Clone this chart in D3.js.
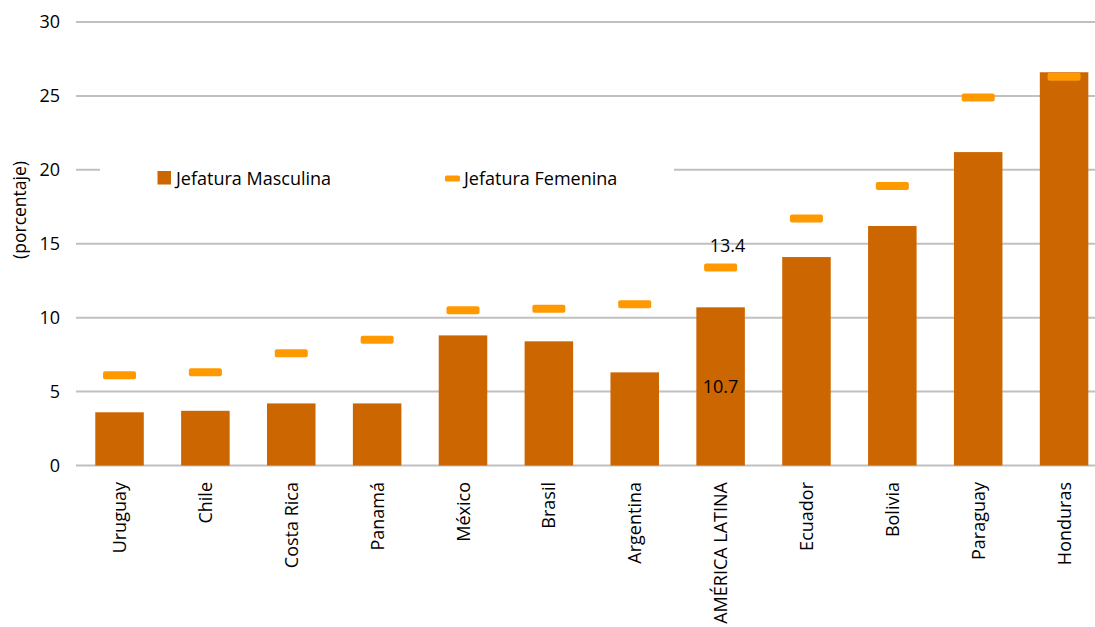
<!DOCTYPE html>
<html>
<head>
<meta charset="utf-8">
<script src="https://cdn.jsdelivr.net/npm/d3@7/dist/d3.min.js"></script>
<style>
  html, body { margin: 0; padding: 0; background: #fff; }
  svg { display: block; font-family: "Open Sans", sans-serif; }
</style>
</head>
<body>
<svg id="chart" width="1095" height="627"></svg>
<script>
// Hogares en situación de pobreza según sexo de la jefatura (porcentaje)
const categories = ["Uruguay", "Chile", "Costa Rica", "Panamá", "México", "Brasil",
  "Argentina", "AMÉRICA LATINA", "Ecuador", "Bolivia", "Paraguay", "Honduras"];
const masculina = [3.6, 3.7, 4.2, 4.2, 8.8, 8.4, 6.3, 10.7, 14.1, 16.2, 21.2, 26.6];
const femenina  = [6.1, 6.3, 7.6, 8.5, 10.5, 10.6, 10.9, 13.4, 16.7, 18.9, 24.9, 26.3];
const yTicks = [0, 5, 10, 15, 20, 25, 30];
const labeledCategory = "AMÉRICA LATINA";

const colorBar = "#CC6600";
const colorMark = "#FF9900";
const colorGrid = "#C0C0C0";
const colorText = "#000";

const svg = d3.select("#chart");

const x = d3.scaleBand()
  .domain(categories)
  .range([76.6, 1107])
  .paddingInner(0.435)
  .paddingOuter(0.2175);

const y = d3.scaleLinear().domain([0, 30]).range([465.5, 22]);

// horizontal gridlines
svg.append("g")
  .selectAll("line")
  .data(yTicks)
  .join("line")
  .attr("x1", 76)
  .attr("x2", 1107)
  .attr("y1", d => y(d))
  .attr("y2", d => y(d))
  .attr("stroke", colorGrid)
  .attr("stroke-width", 2);

// y axis labels
const yAxis = d3.axisLeft(y).tickValues(yTicks).tickSize(0).tickPadding(0);
svg.append("g")
  .attr("transform", "translate(60,0)")
  .call(yAxis)
  .call(g => g.select(".domain").remove())
  .call(g => g.selectAll("text")
    .attr("font-family", "Open Sans, sans-serif")
    .attr("font-size", 18)
    .attr("fill", colorText));

// y axis title
svg.append("text")
  .attr("transform", "translate(26,210) rotate(-90)")
  .attr("text-anchor", "middle")
  .attr("font-size", 17.5)
  .attr("fill", colorText)
  .text("(porcentaje)");

// legend (white box hides the gridline behind it)
const legend = svg.append("g");
legend.append("rect")
  .attr("x", 100).attr("y", 150).attr("width", 574).attr("height", 50)
  .attr("fill", "#fff");
legend.append("rect")
  .attr("x", 157.5).attr("y", 171).attr("width", 13.5).attr("height", 13.5)
  .attr("fill", colorBar);
legend.append("text")
  .attr("x", 176).attr("y", 185)
  .attr("font-size", 18).attr("fill", colorText)
  .text("Jefatura Masculina");
legend.append("rect")
  .attr("x", 445).attr("y", 175.5).attr("width", 15).attr("height", 6).attr("rx", 1.5)
  .attr("fill", colorMark);
legend.append("text")
  .attr("x", 464).attr("y", 185)
  .attr("font-size", 18).attr("fill", colorText)
  .text("Jefatura Femenina");

// bars: jefatura masculina
svg.append("g")
  .selectAll("rect")
  .data(categories.map((c, i) => ({ c, v: masculina[i] })))
  .join("rect")
  .attr("x", d => x(d.c))
  .attr("width", x.bandwidth())
  .attr("y", d => y(d.v))
  .attr("height", d => y(0) - y(d.v))
  .attr("fill", colorBar);

// markers: jefatura femenina
const markW = 33, markH = 8;
svg.append("g")
  .selectAll("rect")
  .data(categories.map((c, i) => ({ c, v: femenina[i] })))
  .join("rect")
  .attr("x", d => x(d.c) + x.bandwidth() / 2 - markW / 2)
  .attr("y", d => y(d.v) - markH / 2)
  .attr("width", markW)
  .attr("height", markH)
  .attr("rx", 2)
  .attr("fill", colorMark);

// value labels for the regional average
const li = categories.indexOf(labeledCategory);
const lx = x(labeledCategory) + x.bandwidth() / 2;
svg.append("text")
  .attr("x", lx + 7)
  .attr("y", y(femenina[li]) - 15)
  .attr("text-anchor", "middle")
  .attr("font-size", 18).attr("fill", colorText)
  .text(femenina[li].toFixed(1));
svg.append("text")
  .attr("x", lx)
  .attr("y", y(masculina[li] / 2))
  .attr("dy", "0.35em")
  .attr("text-anchor", "middle")
  .attr("font-size", 18).attr("fill", colorText)
  .text(masculina[li].toFixed(1));

// category labels, rotated
svg.append("g")
  .selectAll("text")
  .data(categories)
  .join("text")
  .attr("transform", d => `translate(${x(d) + x.bandwidth() / 2 + 6.5},482) rotate(-90)`)
  .attr("text-anchor", "end")
  .attr("font-size", 18)
  .attr("fill", colorText)
  .text(d => d);
</script>
</body>
</html>
